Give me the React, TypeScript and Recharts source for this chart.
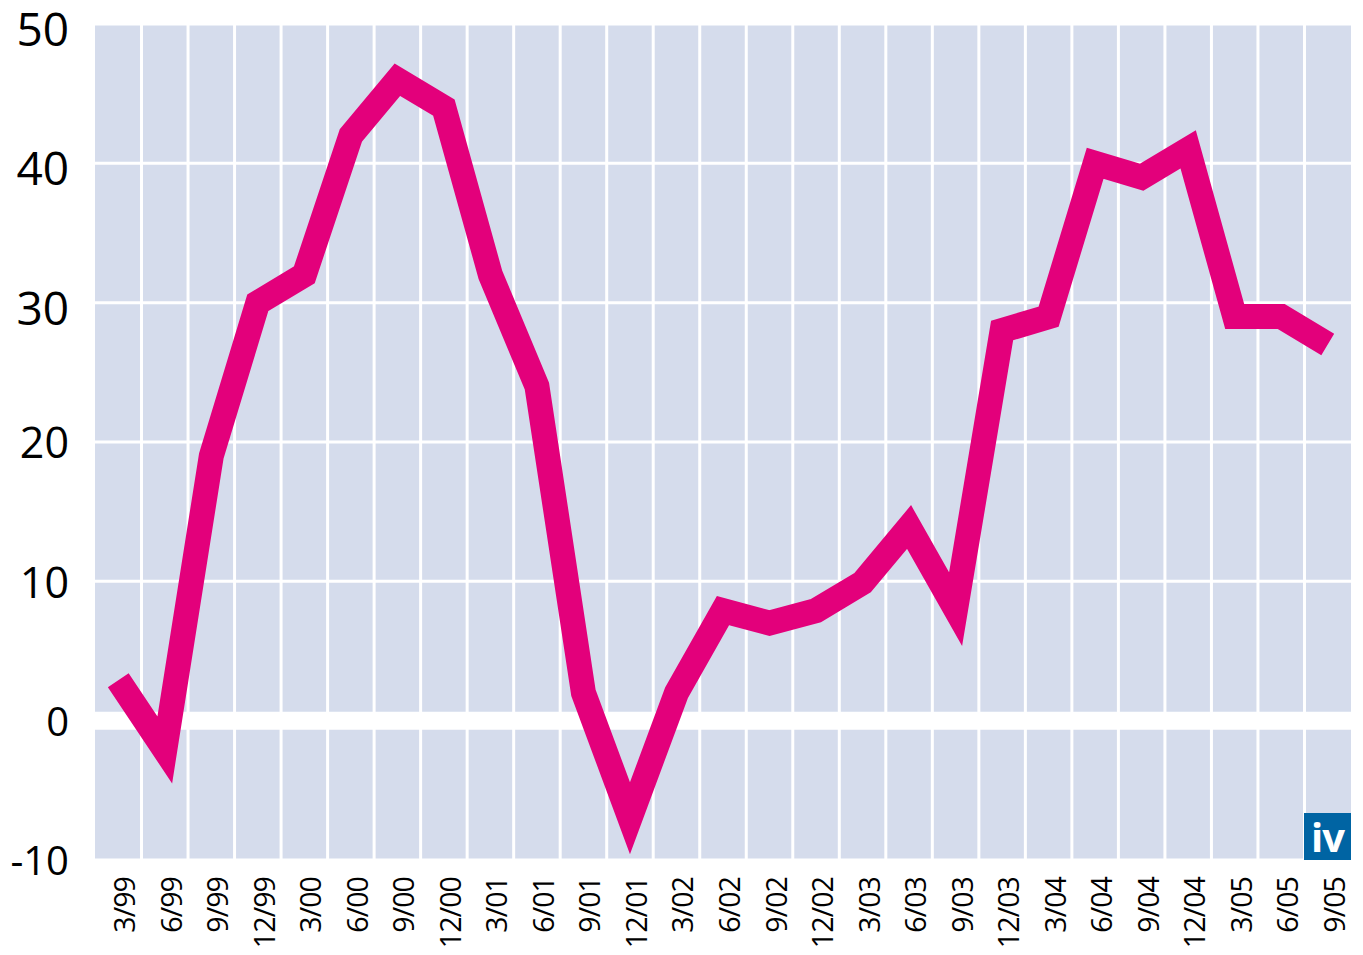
import React from 'react';
import { LineChart, Line, XAxis, YAxis, CartesianGrid, ReferenceLine } from 'recharts';

const labels = ['3/99', '6/99', '9/99', '12/99', '3/00', '6/00', '9/00', '12/00', '3/01', '6/01', '9/01', '12/01', '3/02', '6/02', '9/02', '12/02', '3/03', '6/03', '9/03', '12/03', '3/04', '6/04', '9/04', '12/04', '3/05', '6/05', '9/05'];
const values = [2.9, -2.1, 19, 30, 32, 42, 46, 44, 32, 24, 2, -7, 2, 7.9, 7, 7.9, 9.9, 13.9, 8, 28, 29, 40, 39, 41, 29, 29, 27];
const yTicks = [-10, 0, 10, 20, 30, 40, 50];

const data = labels.map((label, i) => ({ pos: i + 0.5, label, value: values[i] }));
const xTicks = labels.map((_, i) => i + 0.5);
const gridXs = Array.from({ length: labels.length - 1 }, (_, i) => i + 1);

const FONT = "'Open Sans', sans-serif";
const BG = '#d5dcec';
const MAGENTA = '#e3007b';
const BLUE = '#0064a3';

const XTick = (props: any) => {
  const { x, y, payload, index } = props;
  const y0 = y + 17;
  const label = labels[index] ?? labels[Math.floor(payload.value)];
  return (
    <text
      x={x}
      y={y0}
      dy={17}
      transform={`rotate(-90 ${x} ${y0})`}
      textAnchor="end"
      fontFamily={FONT}
      fontSize={28.5}
      letterSpacing={-0.9}
      fill="#000"
    >
      {label}
    </text>
  );
};

const YTick = (props: any) => {
  const { x, y, payload } = props;
  const v = payload.value;
  const fs = v >= 30 ? 46 : v >= 10 ? 43 : 40;
  const shift = v >= 30 ? 22 : 0.357 * fs + 1;
  return (
    <text x={x - 26} y={y + shift} textAnchor="end" fontFamily={FONT} fontSize={fs} fill="#000">
      {v}
    </text>
  );
};

export default function App() {
  return (
    <div style={{ position: 'absolute', left: 0, top: 0, width: 1363, height: 955, background: '#fff' }}>
      <LineChart width={1363} height={955} data={data} margin={{ top: 24, right: 12, bottom: 0, left: 0 }}>
        <CartesianGrid vertical={false} horizontal={true} fill={BG} fillOpacity={1} stroke="#fff" strokeWidth={3} />
        <XAxis
          dataKey="pos"
          type="number"
          domain={[0, labels.length]}
          ticks={xTicks}
          interval={0}
          height={95}
          axisLine={false}
          tickLine={false}
          tickSize={0}
          tickMargin={0}
          tick={<XTick />}
          allowDataOverflow
        />
        <YAxis
          type="number"
          domain={[-10, 50]}
          ticks={yTicks}
          interval={0}
          width={95}
          axisLine={false}
          tickLine={false}
          tickSize={0}
          tickMargin={0}
          tick={<YTick />}
          allowDataOverflow
        />
        {gridXs.map((g) => (
          <ReferenceLine key={g} x={g} stroke="#fff" strokeWidth={3} />
        ))}
        <ReferenceLine y={0} stroke="#fff" strokeWidth={18} />
        <Line
          type="linear"
          dataKey="value"
          stroke={MAGENTA}
          strokeWidth={25}
          strokeLinejoin="miter"
          strokeLinecap="butt"
          strokeMiterlimit={10}
          dot={false}
          activeDot={false}
          isAnimationActive={false}
        />
      </LineChart>
      <div
        style={{
          position: 'absolute',
          left: 1304,
          top: 813,
          width: 47,
          height: 47,
          background: BLUE,
          color: '#fff',
          fontFamily: FONT,
          fontWeight: 700,
          fontSize: 40,
          lineHeight: '47px',
          textAlign: 'center',
          letterSpacing: -1,
        }}
      >
        iv
      </div>
    </div>
  );
}
